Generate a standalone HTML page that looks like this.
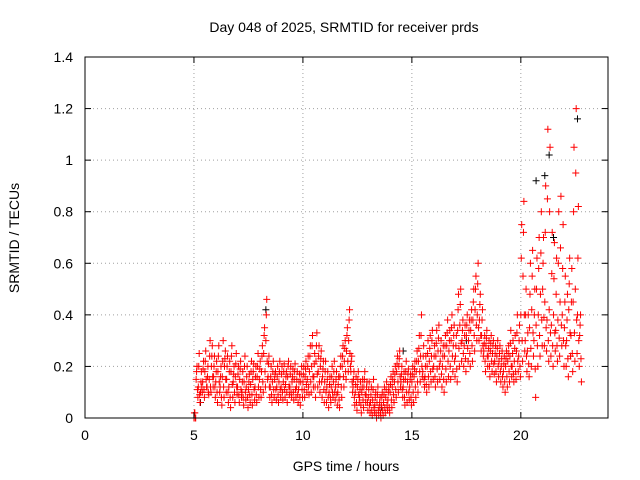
<!DOCTYPE html>
<html><head><meta charset="utf-8"><style>
body{margin:0;background:#fff}
svg{display:block;font-family:"Liberation Sans",sans-serif}
</style></head><body>
<svg id="c" width="640" height="480">
<text x="344" y="32" font-size="14" text-anchor="middle">Day 048 of 2025, SRMTID for receiver prds</text>
<text x="346" y="471" font-size="14" text-anchor="middle">GPS time / hours</text>
<text transform="translate(19,238) rotate(-90)" font-size="14" text-anchor="middle">SRMTID / TECUs</text>
<g id="grid"></g><g id="marks"></g><g id="axes"></g>
</svg>
<script>
const xTicks=[0,5,10,15,20];
const yTicks=[0,0.2,0.4,0.6,0.8,1,1.2,1.4];
const yTickLabels=["0","0.2","0.4","0.6","0.8","1","1.2","1.4"];
const tStart=5.0, tStep=0.1;
const seriesA=[0.00,0.15,0.12,0.10,0.14,0.18,0.12,0.15,0.20,0.16,
0.14,0.18,0.12,0.16,0.20,0.15,0.12,0.18,0.14,0.16,
0.12,0.15,0.10,0.14,0.12,0.11,0.13,0.15,0.12,0.16,
0.15,0.18,0.25,0.30,0.16,0.12,0.14,0.15,0.12,0.14,
0.12,0.14,0.13,0.16,0.12,0.14,0.15,0.12,0.11,0.14,
0.14,0.16,0.15,0.18,0.20,0.16,0.22,0.18,0.20,0.16,
0.14,0.12,0.10,0.12,0.14,0.12,0.10,0.16,0.20,0.22,
0.26,0.30,0.18,0.12,0.10,0.12,0.08,0.10,0.12,0.09,
0.08,0.06,0.07,0.05,0.06,0.04,0.05,0.06,0.08,0.07,
0.10,0.12,0.14,0.18,0.20,0.14,0.12,0.15,0.14,0.12,
0.14,0.16,0.18,0.22,0.24,0.18,0.16,0.20,0.22,0.24,
0.20,0.24,0.26,0.22,0.20,0.24,0.28,0.26,0.30,0.28,
0.24,0.34,0.36,0.30,0.28,0.32,0.30,0.34,0.38,0.42,
0.40,0.38,0.32,0.26,0.28,0.24,0.26,0.25,0.22,0.24,
0.22,0.20,0.18,0.20,0.22,0.24,0.20,0.22,0.26,0.24,
0.40,0.55,0.30,0.26,0.35,0.42,0.30,0.36,0.40,0.48,
0.50,0.45,0.38,0.42,0.36,0.40,0.34,0.38,0.45,0.40,
0.35,0.30,0.42,0.32,0.45,0.50,0.40,0.32];
const seriesB=[0.02,0.20,0.25,0.18,0.22,0.26,0.20,0.30,0.28,0.24,
0.22,0.28,0.20,0.30,0.26,0.24,0.22,0.28,0.20,0.25,
0.20,0.22,0.18,0.24,0.20,0.17,0.22,0.21,0.20,0.25,
0.22,0.28,0.35,0.46,0.24,0.20,0.22,0.18,0.20,0.22,
0.20,0.21,0.18,0.22,0.20,0.19,0.21,0.18,0.17,0.20,
0.20,0.22,0.24,0.28,0.32,0.25,0.33,0.28,0.26,0.22,
0.22,0.18,0.16,0.20,0.22,0.18,0.16,0.24,0.28,0.30,
0.35,0.42,0.24,0.18,0.16,0.18,0.14,0.15,0.18,0.14,
0.14,0.12,0.15,0.10,0.12,0.08,0.10,0.12,0.14,0.12,
0.16,0.18,0.20,0.24,0.26,0.20,0.18,0.22,0.19,0.17,
0.20,0.22,0.26,0.32,0.40,0.28,0.24,0.30,0.32,0.34,
0.28,0.34,0.36,0.30,0.28,0.32,0.38,0.34,0.40,0.36,
0.32,0.48,0.50,0.38,0.36,0.40,0.38,0.42,0.50,0.55,
0.60,0.48,0.42,0.32,0.34,0.30,0.32,0.30,0.28,0.30,
0.28,0.26,0.24,0.26,0.28,0.34,0.30,0.32,0.40,0.36,
0.75,0.84,0.50,0.40,0.60,0.65,0.50,0.62,0.70,0.80,
0.70,0.90,1.12,1.05,0.72,0.68,0.62,0.80,0.86,0.75,
0.55,0.48,0.62,0.58,1.05,1.20,0.82,0.40];
const seriesC=[0.00,0.08,0.06,0.10,0.08,0.12,0.09,0.10,0.12,0.08,
0.06,0.10,0.05,0.08,0.10,0.06,0.04,0.08,0.06,0.09,
0.06,0.08,0.05,0.07,0.04,0.06,0.05,0.07,0.06,0.08,
0.08,0.10,0.12,0.15,0.08,0.06,0.08,0.07,0.06,0.08,
0.07,0.08,0.06,0.09,0.08,0.07,0.08,0.06,0.05,0.08,
0.08,0.10,0.09,0.10,0.12,0.08,0.12,0.10,0.08,0.06,
0.06,0.04,0.06,0.08,0.07,0.05,0.04,0.08,0.12,0.15,
0.18,0.20,0.10,0.05,0.03,0.06,0.02,0.04,0.06,0.03,
0.02,0.01,0.02,0.00,0.01,0.00,0.01,0.02,0.03,0.02,
0.04,0.06,0.08,0.10,0.12,0.08,0.05,0.06,0.07,0.05,
0.06,0.08,0.10,0.14,0.16,0.12,0.10,0.12,0.14,0.15,
0.12,0.14,0.15,0.12,0.10,0.14,0.16,0.15,0.18,0.16,
0.14,0.20,0.22,0.20,0.18,0.22,0.20,0.22,0.26,0.30,
0.30,0.26,0.24,0.18,0.20,0.16,0.18,0.17,0.14,0.16,
0.14,0.12,0.10,0.12,0.14,0.16,0.14,0.15,0.18,0.16,
0.22,0.26,0.18,0.16,0.20,0.24,0.08,0.20,0.24,0.28,
0.28,0.26,0.22,0.24,0.20,0.26,0.22,0.24,0.28,0.20,
0.20,0.16,0.24,0.18,0.22,0.25,0.20,0.14];
const seriesD=[0.02,0.18,0.20,0.14,0.19,0.22,0.16,0.24,0.24,0.20,
0.18,0.24,0.16,0.22,0.23,0.20,0.18,0.24,0.17,0.21,
0.17,0.19,0.14,0.20,0.16,0.14,0.18,0.18,0.16,0.20,
0.19,0.24,0.32,0.40,0.21,0.16,0.18,0.17,0.16,0.18,
0.17,0.18,0.16,0.20,0.17,0.16,0.18,0.15,0.14,0.17,
0.17,0.19,0.20,0.24,0.28,0.21,0.28,0.24,0.23,0.19,
0.18,0.15,0.13,0.16,0.18,0.15,0.13,0.20,0.24,0.27,
0.32,0.38,0.22,0.15,0.13,0.15,0.11,0.12,0.15,0.12,
0.11,0.09,0.11,0.08,0.09,0.06,0.08,0.09,0.11,0.10,
0.13,0.15,0.17,0.21,0.23,0.17,0.15,0.18,0.17,0.15,
0.17,0.19,0.22,0.27,0.32,0.24,0.20,0.25,0.27,0.30,
0.24,0.29,0.31,0.26,0.24,0.28,0.33,0.30,0.35,0.32,
0.28,0.42,0.44,0.34,0.32,0.36,0.34,0.38,0.45,0.50,
0.52,0.44,0.38,0.29,0.31,0.27,0.29,0.28,0.25,0.27,
0.25,0.23,0.21,0.23,0.25,0.29,0.25,0.27,0.33,0.30,
0.62,0.72,0.40,0.33,0.48,0.55,0.40,0.50,0.58,0.64,
0.60,0.72,0.85,0.80,0.56,0.54,0.48,0.60,0.66,0.58,
0.45,0.38,0.52,0.45,0.80,0.95,0.62,0.36];
const seriesE=[0.00,0.11,0.09,0.12,0.11,0.15,0.10,0.12,0.16,0.12,
0.10,0.14,0.08,0.12,0.15,0.10,0.08,0.13,0.10,0.12,
0.09,0.11,0.08,0.10,0.08,0.09,0.09,0.11,0.09,0.12,
0.11,0.14,0.18,0.22,0.12,0.09,0.11,0.11,0.09,0.11,
0.10,0.11,0.10,0.12,0.10,0.10,0.11,0.09,0.08,0.11,
0.11,0.13,0.12,0.14,0.16,0.12,0.17,0.14,0.14,0.11,
0.10,0.08,0.08,0.10,0.10,0.09,0.07,0.12,0.16,0.18,
0.22,0.25,0.14,0.08,0.06,0.09,0.05,0.07,0.09,0.06,
0.05,0.03,0.04,0.02,0.03,0.02,0.03,0.04,0.05,0.04,
0.07,0.09,0.11,0.14,0.16,0.11,0.08,0.10,0.10,0.08,
0.10,0.12,0.14,0.18,0.20,0.15,0.13,0.16,0.18,0.19,
0.16,0.19,0.20,0.17,0.15,0.19,0.22,0.20,0.24,0.22,
0.19,0.27,0.29,0.25,0.23,0.27,0.25,0.28,0.32,0.36,
0.35,0.32,0.28,0.22,0.24,0.20,0.22,0.21,0.18,0.20,
0.18,0.16,0.14,0.16,0.18,0.20,0.17,0.18,0.22,0.20,
0.30,0.40,0.24,0.21,0.27,0.33,0.19,0.28,0.32,0.38,
0.39,0.35,0.30,0.33,0.28,0.33,0.28,0.31,0.36,0.30,
0.28,0.23,0.33,0.25,0.33,0.38,0.30,0.23];
const blackTimes=[5.3,8.3,13.6,14.6,17.5,20.7,21.1,21.3,21.5,22.6];
const blackVals=[0.06,0.42,0.04,0.26,0.30,0.92,0.94,1.02,0.70,1.16];

const L=85,R=608,T=57,B=418,xMax=24,yMax=1.4;
const xs=v=>L+v/xMax*(R-L), ys=v=>B-v/yMax*(B-T);
const NS="http://www.w3.org/2000/svg";
function mk(tag,attrs,parent){const e=document.createElementNS(NS,tag);for(const k in attrs)e.setAttribute(k,attrs[k]);document.getElementById(parent).appendChild(e);return e;}
xTicks.forEach((t,i)=>{
 if(t>0){const g=mk('line',{x1:xs(t),x2:xs(t),y1:T,y2:B,stroke:'#a0a0a0','stroke-dasharray':'1,3'},'grid');
 
 }
 const tx=mk('text',{x:xs(t),y:B+22,'font-size':14,'text-anchor':'middle'},'axes');tx.textContent=t;
 
 
 mk('line',{x1:xs(t),x2:xs(t),y1:B,y2:B-6,stroke:'#000'},'axes');
 mk('line',{x1:xs(t),x2:xs(t),y1:T,y2:T+6,stroke:'#000'},'axes');
});
yTicks.forEach((v,i)=>{
 if(v>0&&v<yMax){const g=mk('line',{x1:L,x2:R,y1:ys(v),y2:ys(v),stroke:'#a0a0a0','stroke-dasharray':'1,3'},'grid');
 
 }
 const tx=mk('text',{x:L-12,y:ys(v)+5,'font-size':14,'text-anchor':'end'},'axes');tx.textContent=yTickLabels[i];
 
 
 mk('line',{x1:L,x2:L+6,y1:ys(v),y2:ys(v),stroke:'#000'},'axes');
 mk('line',{x1:R,x2:R-6,y1:ys(v),y2:ys(v),stroke:'#000'},'axes');
});
const fr=mk('rect',{x:L,y:T,width:R-L,height:B-T,fill:'none',stroke:'#000'},'axes');


function plus(t,v,col){
 const x=xs(t),y=ys(v);
 const p=mk('path',{d:`M${x-3.5},${y}H${x+3.5}M${x},${y-3.5}V${y+3.5}`,stroke:col,'stroke-width':1,fill:'none'},'marks');
 
 
}
blackTimes.forEach((t,i)=>plus(t,blackVals[i],'#000'));
[[seriesA,0],[seriesD,0.02],[seriesB,0.04],[seriesE,0.06],[seriesC,0.08]].forEach(([s,off])=>{
 s.forEach((v,i)=>plus(tStart+i*tStep+off,v,'#ff0000'));
});
</script>
</body></html>
